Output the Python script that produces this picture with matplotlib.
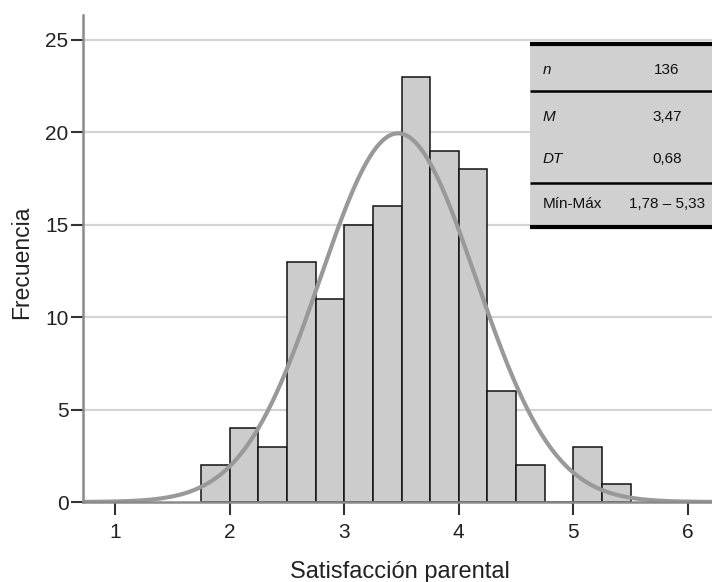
import numpy as np
import matplotlib
matplotlib.use("Agg")
import matplotlib.pyplot as plt
from matplotlib.patches import Rectangle

plt.rcParams['font.family'] = ['Liberation Sans', 'DejaVu Sans']

# Histogram of parental satisfaction scores (bin width 0.25)
bin_left = [1.75, 2.00, 2.25, 2.50, 2.75, 3.00, 3.25, 3.50,
            3.75, 4.00, 4.25, 4.50, 4.75, 5.00, 5.25]
counts = [2, 4, 3, 13, 11, 15, 16, 23, 19, 18, 6, 2, 0, 3, 1]
bin_width = 0.25

# Descriptive statistics
n_obs = 136
mean = 3.47
sd = 0.68
stat_labels = ["n", "M", "DT", "Mín-Máx"]
stat_values = ["136", "3,47", "0,68", "1,78 – 5,33"]
stat_italic = [True, True, True, False]

x_ticks = [1, 2, 3, 4, 5, 6]
y_ticks = [0, 5, 10, 15, 20, 25]

W, H = 712, 582
fig = plt.figure(figsize=(W / 100, H / 100), dpi=100)
ax = fig.add_axes([83 / W, 1 - 502 / H, (W - 83) / W, (502 - 15) / H])

ax.set_xlim(0.72, 6.21)
ax.set_ylim(0, 26.35)

# horizontal grid
for yv in y_ticks[1:]:
    ax.axhline(yv, color="#d4d4d4", lw=1.6, zorder=0)

ax.bar(bin_left, counts, width=bin_width, align="edge",
       color="#cccccc", edgecolor="#111111", linewidth=1.1, zorder=2)

# fitted normal curve scaled to counts
xs = np.linspace(0.72, 6.3, 400)
pdf = np.exp(-0.5 * ((xs - mean) / sd) ** 2) / (sd * np.sqrt(2 * np.pi))
ax.plot(xs, pdf * n_obs * bin_width, color="#999999", lw=3.0, zorder=3,
        solid_capstyle="round")

for side in ("top", "right"):
    ax.spines[side].set_visible(False)
for side in ("left", "bottom"):
    ax.spines[side].set_color("#8a8a8a")
    ax.spines[side].set_linewidth(1.8)
    ax.spines[side].set_zorder(4)

ax.set_xticks(x_ticks)
ax.set_yticks(y_ticks)
ax.tick_params(axis="both", direction="out", length=9, width=1.5,
               color="#333333", labelsize=15, labelcolor="#222222")
ax.tick_params(axis="x", pad=6)
ax.tick_params(axis="y", pad=1.5)

fig.text(22 / W, 1 - 262 / H, "Frecuencia", rotation=90, ha="center",
         va="center", fontsize=16.5, color="#222222")
fig.text(400 / W, 1 - 572 / H, "Satisfacción parental", ha="center",
         va="center", fontsize=17, color="#222222")

# statistics table in pixel coordinates
tx0, tx1, ty0, ty1 = 530, 712, 44, 227
tab = fig.add_axes([tx0 / W, 1 - ty1 / H, (tx1 - tx0) / W, (ty1 - ty0) / H])
tab.set_xlim(tx0, tx1)
tab.set_ylim(ty1, ty0)
tab.axis("off")
tab.add_patch(Rectangle((tx0, ty0), tx1 - tx0, ty1 - ty0,
                        facecolor="#d0d0d0", edgecolor="none"))
for yy, lw in [(ty0, 3.0), (91, 1.8), (183, 1.8), (ty1, 3.0)]:
    tab.plot([tx0, tx1], [yy, yy], color="black", lw=lw, clip_on=False,
             solid_capstyle="butt")
row_y = [70, 117, 159, 204]
for lab, val, it, yy in zip(stat_labels, stat_values, stat_italic, row_y):
    tab.text(543, yy, lab, ha="left", va="center", fontsize=11,
             style="italic" if it else "normal", color="#111111")
    tab.text(667, yy, val, ha="center", va="center", fontsize=11,
             color="#111111")

fig.savefig("out.png", dpi=100)
